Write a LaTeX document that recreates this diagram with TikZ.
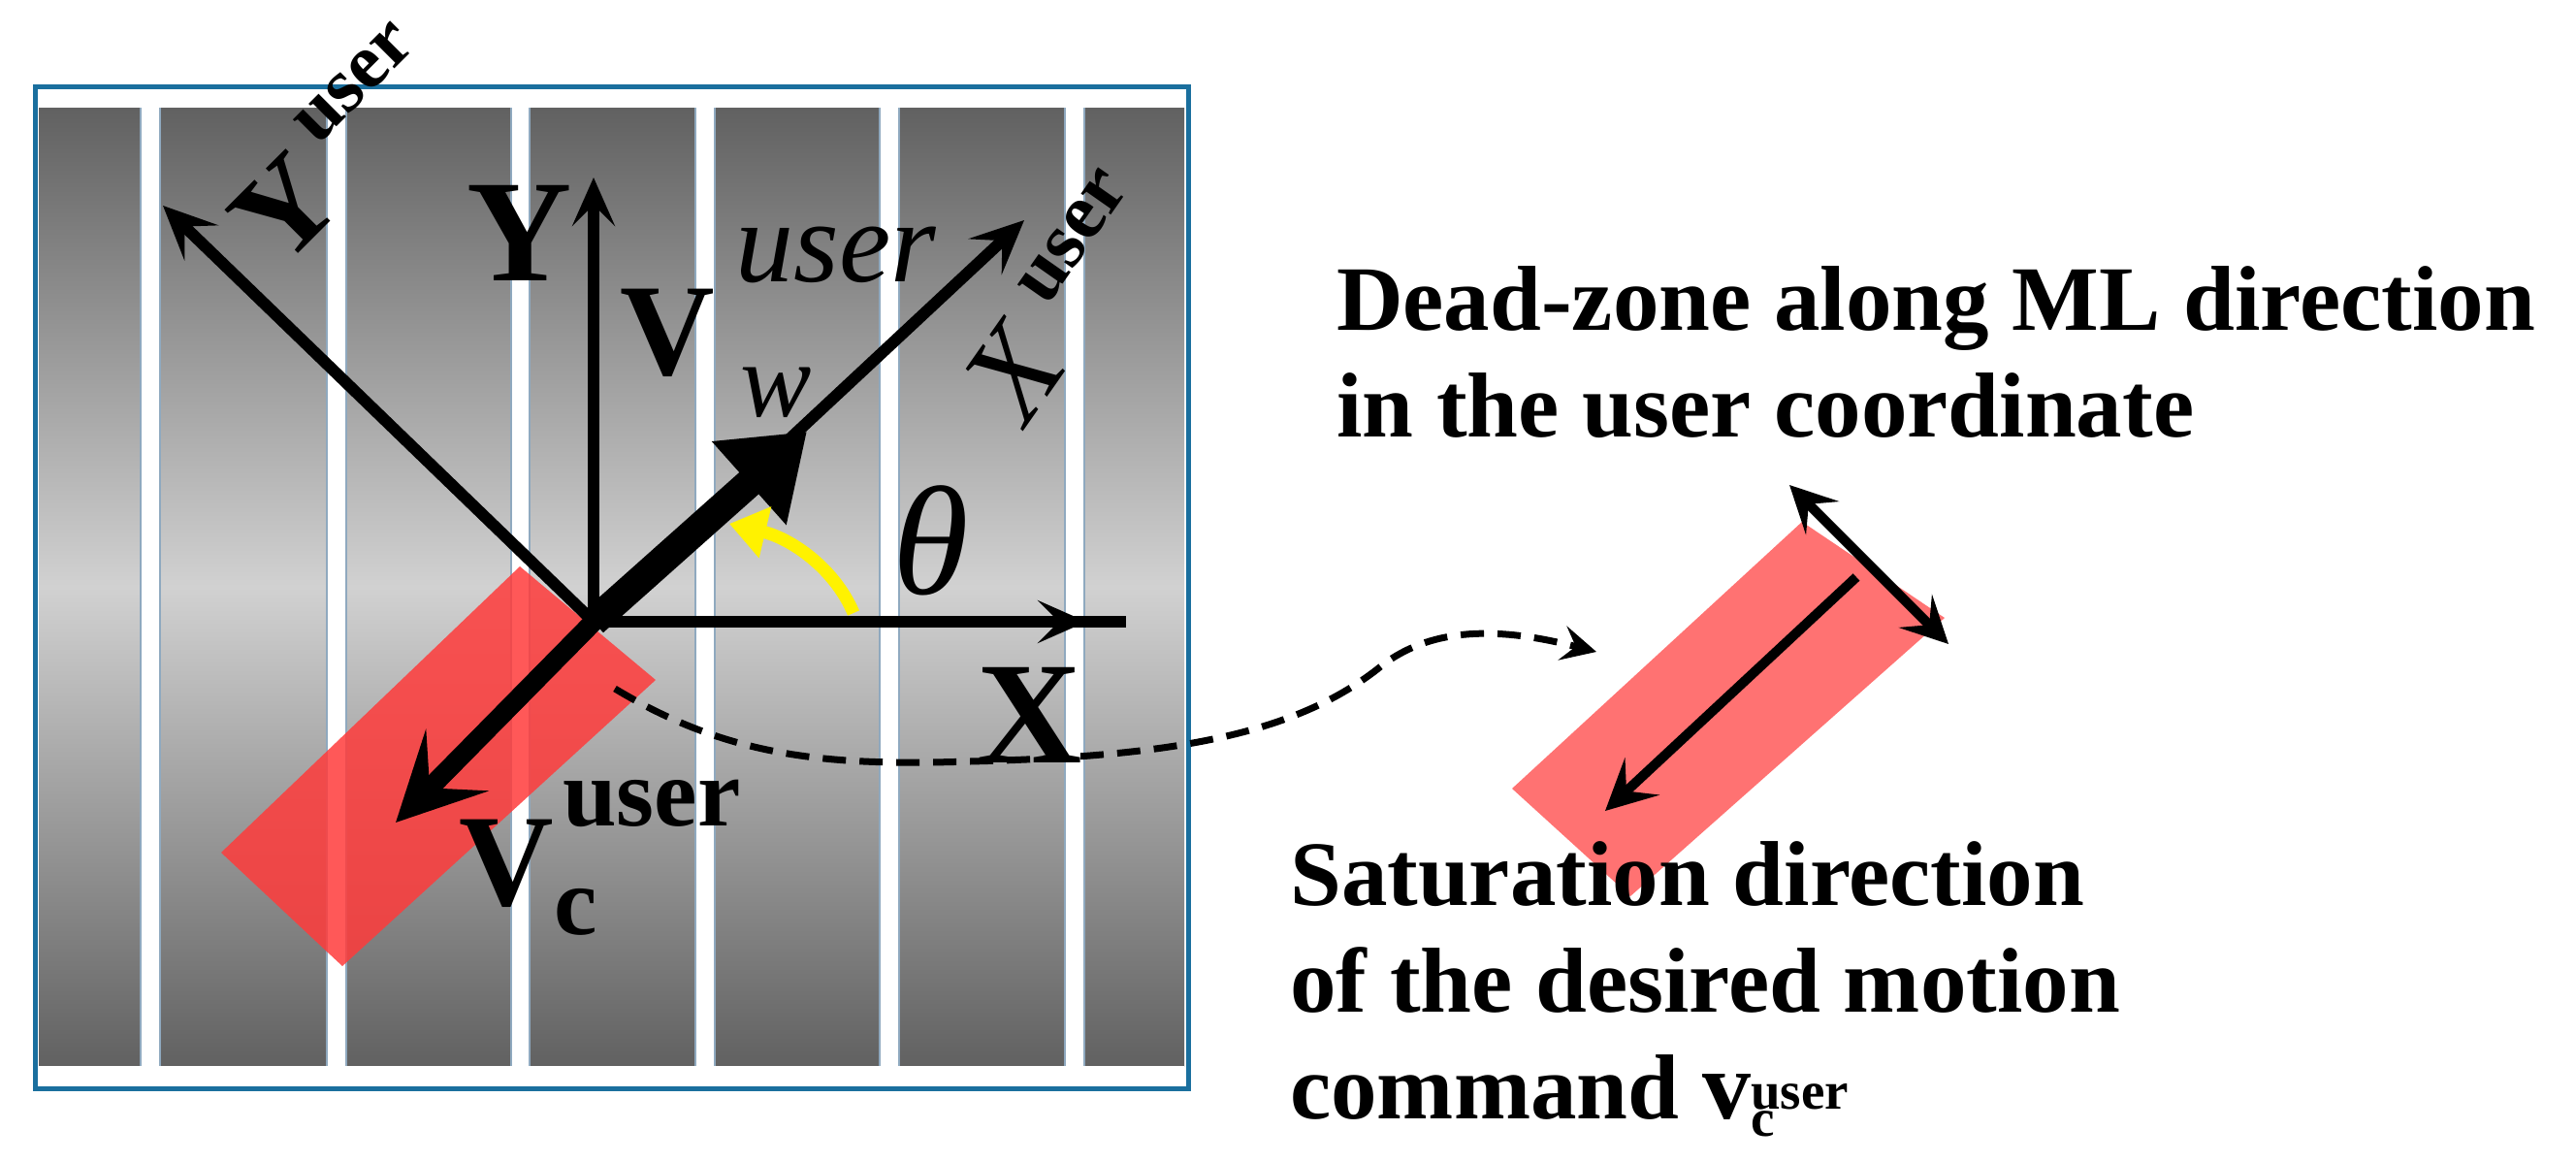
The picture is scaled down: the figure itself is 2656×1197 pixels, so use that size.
\documentclass[tikz,border=0pt]{standalone}
\usepackage{fontspec}
\setmainfont{Liberation Serif}
\usetikzlibrary{arrows.meta}
\definecolor{frameblue}{HTML}{1A6F9E}
\definecolor{stripeedge}{HTML}{8FA9BF}
\definecolor{redA}{HTML}{FF3B3B}
\definecolor{redB}{HTML}{FF7272}
\tikzset{
  big/.style={font=\fontsize{150}{150}\selectfont\bfseries, inner sep=0pt},
  note/.style={font=\fontsize{95}{110}\selectfont\bfseries, inner sep=0pt, anchor=base west, align=left},
}
\begin{document}
\begin{tikzpicture}[x=1pt,y=-1pt]
\useasboundingbox (0,0) rectangle (2656,1197);
% panel
\shade[top color=black!62, bottom color=black!62, middle color=black!18] (40,111) rectangle (1221,1099);
\fill[white] (40,89) rectangle (1221,111);
\fill[white] (40,1099) rectangle (1221,1122);
\foreach \a/\b in {145/165,337/357,527/546,717/737,907/927,1098/1118}{
  \fill[white] (\a,111) rectangle (\b,1099);
  \draw[stripeedge, line width=2pt] (\a,111) -- (\a,1099) (\b,111) -- (\b,1099);
}
\draw[frameblue, line width=5pt] (36,89) rectangle (1225,1122);
% red dead-zone
\fill[redA, opacity=0.85] (536,584) -- (676,701) -- (353,996) -- (228,879) -- cycle;
% axes
\coordinate (O) at (612,641);
\coordinate (Ytip) at (612,183);
\coordinate (Xend) at (1161,641);
\coordinate (Xtip) at (1120,641);
\coordinate (YUtip) at (168,212);
\coordinate (XUtip) at (1056,227);
\coordinate (Wtip) at (832,445);
\coordinate (Vctip) at (408,848);
\draw[line width=12pt] (O) -- (Xend);
\draw[line width=12pt, -{Stealth[length=50pt,width=44pt,inset=22pt]}] (O) -- (Xtip);
\draw[line width=12pt, -{Stealth[length=50pt,width=44pt,inset=22pt]}] (O) -- (Ytip);
\draw[line width=12pt, -{Stealth[length=55pt,width=50pt,inset=24pt]}] (O) -- (YUtip);
\draw[line width=12pt, -{Stealth[length=55pt,width=50pt,inset=24pt]}] (O) -- (XUtip);
\draw[line width=30pt, -{Triangle[length=80pt,width=110pt]}] (O) -- (Wtip);
\draw[line width=20pt, -{Stealth[length=90pt,width=90pt,inset=40pt]}] (O) -- (Vctip);
% yellow arc
\coordinate (th1) at (880,632);
\coordinate (th2) at (752,540);
\draw[yellow, line width=13pt, -{Triangle[length=38pt,width=52pt]}] (th1) .. controls (860,585) and (815,555) .. (th2);
% labels
\node[big] (lY) at (536,240) {Y};
\node[inner sep=0pt, font=\fontsize{135}{135}\selectfont\bfseries] (lV) at (688,343) {V};
\node[inner sep=0pt, font=\fontsize{120}{120}\selectfont\itshape] (lVu) at (862,263) {user};
\node[inner sep=0pt, font=\fontsize{110}{110}\selectfont\itshape] (lw) at (800,405) {w};
\node[inner sep=0pt, font=\fontsize{160}{160}\selectfont\itshape] (lth) at (960,557) {θ};
\node[big] (lX) at (1062,737) {X};
\node[big, font=\fontsize{130}{130}\selectfont\bfseries, rotate=45] (lYU) at (294,215) {Y};
\node[inner sep=0pt, font=\fontsize{80}{80}\selectfont\bfseries, rotate=45] (lYUu) at (366,86) {user};
\node[inner sep=0pt, font=\fontsize{130}{130}\selectfont\itshape, rotate=55] (lXU) at (1045,385) {X};
\node[inner sep=0pt, font=\fontsize{82}{82}\selectfont\bfseries, rotate=55] (lXUu) at (1107,244) {user};
\node[inner sep=0pt, font=\fontsize{135}{135}\selectfont\bfseries] (lVc) at (522,890) {V};
\node[inner sep=0pt, font=\fontsize{100}{100}\selectfont\bfseries] (lVcc) at (594,940) {c};
\node[inner sep=0pt, font=\fontsize{100}{100}\selectfont\bfseries] (lVcu) at (672,828) {user};
% right red rectangle
\fill[redB] (1559,813) -- (1858,538) -- (2005,637) -- (1681,924) -- cycle;
\coordinate (dA) at (1845,500);
\coordinate (dB) at (2009,664);
\coordinate (sA) at (1914,595);
\coordinate (sB) at (1655,836);
\draw[line width=10pt, {Stealth[length=48pt,width=48pt,inset=20pt]}-{Stealth[length=48pt,width=48pt,inset=20pt]}] (dA) -- (dB);
\draw[line width=10pt, -{Stealth[length=52pt,width=52pt,inset=22pt]}] (sA) -- (sB);
% dashed connector
\coordinate (c0) at (634,710);
\coordinate (c1) at (1646,672);
\draw[line width=7pt, dash pattern=on 24pt off 14pt, -{Stealth[length=36pt,width=36pt,inset=14pt]}]
  (c0) .. controls (750,780) and (850,790) .. (1000,785)
  .. controls (1200,780) and (1330,760) .. (1420,690)
  .. controls (1480,640) and (1560,650) .. (c1);
% notes
\node[note] (n1) at (1378,450) {Dead-zone along ML direction\\in the user coordinate};
\node[note] (n2) at (1330,1153) {Saturation direction\\of the desired motion\\command {\fontsize{100}{100}\selectfont v}$_{\textbf{\fontsize{55}{55}\selectfont c}}^{\textbf{\fontsize{55}{55}\selectfont user}}$};
\end{tikzpicture}
\end{document}
